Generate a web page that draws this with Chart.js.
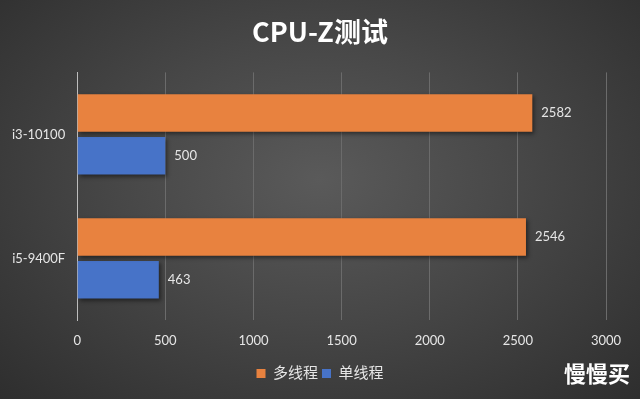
<!DOCTYPE html>
<html>
<head>
<meta charset="utf-8">
<script src="https://cdn.jsdelivr.net/npm/chart.js@4/dist/chart.umd.min.js"></script>
<style>
  html, body { margin: 0; padding: 0; }
  body {
    width: 640px; height: 399px; overflow: hidden; position: relative;
    background: radial-gradient(ellipse at 50% 45%, #5a5a5a 0%, #474747 45%, #2e2e2e 100%);
  }
  #wrap { position: absolute; left: 0; top: 0; width: 640px; height: 399px; }
  #mark {
    position: absolute; right: 10px; top: 356px;
    font-family: "Noto Sans CJK SC", sans-serif; font-size: 22px; font-weight: bold;
    color: #ffffff;
  }
</style>
</head>
<body>
<div id="wrap"><canvas id="myChart" width="640" height="399"></canvas></div>
<div id="mark">慢慢买</div>
<script>
var categories = ["i3-10100", "i5-9400F"];
var multiThread = [2582, 2546];
var singleThread = [500, 463];
var seriesNames = ["多线程", "单线程"];
var xTicks = [0, 500, 1000, 1500, 2000, 2500, 3000];

var labelFont = "Lato, 'Noto Sans CJK SC', sans-serif";

// value labels to the right of each bar
var valueLabels = {
  id: 'valueLabels',
  afterDatasetsDraw: function(chart) {
    var ctx = chart.ctx;
    ctx.save();
    ctx.fillStyle = '#e6e6e6';
    ctx.font = '13px ' + labelFont;
    ctx.textBaseline = 'middle';
    ctx.textAlign = 'left';
    chart.data.datasets.forEach(function(ds, i) {
      chart.getDatasetMeta(i).data.forEach(function(bar, j) {
        ctx.fillText(ds.data[j], bar.x + 9, bar.y);
      });
    });
    ctx.restore();
  }
};

// soft drop shadow under bars
var barShadow = {
  id: 'barShadow',
  beforeDatasetsDraw: function(chart) {
    var ctx = chart.ctx;
    ctx.save();
    ctx.shadowColor = 'rgba(0,0,0,0.45)';
    ctx.shadowBlur = 4;
    ctx.shadowOffsetX = 2;
    ctx.shadowOffsetY = 2;
  },
  afterDatasetsDraw: function(chart) {
    chart.ctx.restore();
  }
};

var ctx = document.getElementById("myChart").getContext('2d');
var myChart = new Chart(ctx, {
  type: 'bar',
  data: {
    labels: categories,
    datasets: [{
      label: seriesNames[0],
      data: multiThread,
      backgroundColor: '#E8823F'
    }, {
      label: seriesNames[1],
      data: singleThread,
      backgroundColor: '#4773C8'
    }]
  },
  options: {
    indexAxis: 'y',
    responsive: false,
    animation: false,
    devicePixelRatio: 1,
    categoryPercentage: 0.69,
    barPercentage: 0.88,
    layout: { padding: { left: 0, right: 0, top: 0, bottom: 8 } },
    plugins: {
      title: {
        display: true,
        text: 'CPU-Z测试',
        color: '#ffffff',
        font: { family: "'Noto Sans CJK SC', sans-serif", size: 27, weight: 'bold' },
        padding: { top: 16, bottom: 24 }
      },
      legend: {
        position: 'bottom',
        labels: {
          color: '#e6e6e6',
          font: { family: labelFont, size: 15 },
          boxWidth: 9,
          boxHeight: 9,
          padding: 4
        }
      },
      tooltip: { enabled: false }
    },
    scales: {
      x: {
        min: 0,
        max: 3000,
        afterBuildTicks: function(axis) {
          axis.ticks = xTicks.map(function(v) { return { value: v }; });
        },
        afterFit: function(axis) {
          axis.paddingRight = 34;
        },
        grid: { color: '#6b6b6b', lineWidth: 1, drawTicks: false },
        border: { display: false },
        ticks: {
          color: '#e6e6e6', font: { family: labelFont, size: 13 }, padding: 13,
          callback: function(v) { return String(v); }
        }
      },
      y: {
        grid: { display: false, drawTicks: false },
        border: { display: true, color: '#bdbdbd', width: 1 },
        ticks: { color: '#e6e6e6', font: { family: labelFont, size: 13 }, padding: 12 }
      }
    }
  },
  plugins: [barShadow, valueLabels]
});
</script>
</body>
</html>
